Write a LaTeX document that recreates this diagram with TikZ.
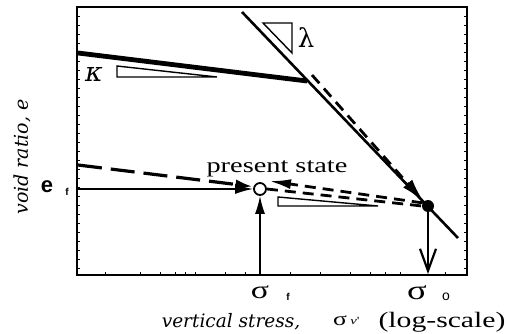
\documentclass[tikz,border=0pt]{standalone}
\usepackage{fontspec}
\setmainfont{Liberation Serif}
\newfontfamily\wide[FakeStretch=1.35]{Liberation Serif}
\newfontfamily\itfont{DejaVu Serif}
\newfontfamily\bsans{Liberation Sans}
\usetikzlibrary{arrows.meta}
\tikzset{
  axisline/.style={line width=1.6pt},
  tickmark/.style={line width=0.7pt},
  ncl/.style={line width=2.6pt},
  kline/.style={line width=4.8pt},
  thinline/.style={line width=1.4pt},
  dashlong/.style={line width=3.2pt, dash pattern=on 24pt off 9pt},
  dashshort/.style={line width=2.8pt, dash pattern=on 11pt off 7pt},
  slopetri/.style={line width=1.4pt},
  fillhead/.style={-{Latex[length=18pt,width=10pt]}},
  bighead/.style={-{Latex[length=24pt,width=12pt]}},
  lbl/.style={inner sep=0pt},
}
\begin{document}
\begin{tikzpicture}[x=1pt,y=-1pt]
\useasboundingbox (0,0) rectangle (508,334);
% frame
\coordinate (bl) at (77,275);
\coordinate (tr) at (467,7);
\draw[axisline] (bl) rectangle (tr);
% minor ticks on the left and right axes
\foreach \y in {16,25,...,268} {
  \draw[tickmark] (77,\y) -- ++(3,0);
  \draw[tickmark] (467,\y) -- ++(-3,0);
}
\foreach \x in {105,140,160,175,185,195,225,245,290,320,350,370,385,400,445} {
  \draw[tickmark] (\x,275) -- ++(0,-3);
}
% normal consolidation line (lambda)
\coordinate (n1) at (242,12);
\coordinate (n2) at (458,238);
\draw[ncl] (n1) -- (n2);
% unloading line (kappa)
\coordinate (k1) at (78,53);
\coordinate (k2) at (307,81);
\draw[kline] (k1) -- (k2);
% slope triangles
\draw[slopetri] (117,66) -- (117,77) -- (217,77) -- cycle;
\draw[slopetri] (263,23) -- (292,23) -- (292,53) -- cycle;
\draw[slopetri] (278,197) -- (278,206) -- (378,206) -- cycle;
% states
\node[circle, fill=black, minimum size=12pt, inner sep=0pt] (oc) at (428,206) {};
\node[circle, draw, fill=white, line width=1.8pt, minimum size=12pt, inner sep=0pt] (ps) at (260,189) {};
% dashed paths
\coordinate (aL) at (78,165);
\draw[dashlong, -{Latex[length=18pt,width=10pt]}] (aL) -- (ps.160);
\draw[dashshort] (ps.east) -- (oc.west);
\coordinate (cTip) at (269,181);
\draw[dashshort, -{Latex[length=22pt,width=10pt]}] (oc.150) -- (cTip);
\coordinate (dTop) at (312,75);
\draw[dashshort, bighead] (dTop) -- (oc.north west);
% e_f and sigma_f guides
\coordinate (ef) at (77,189);
\draw[thinline, fillhead] (ef) -- (ps.west);
\coordinate (sf) at (260,275);
\draw[thinline, fillhead] (sf) -- (ps.south);
% sigma_o arrow
\coordinate (so) at (428,274);
\draw[line width=2.2pt, -{Straight Barb[length=22pt,width=16pt]}] (oc.south) -- (so);
% labels
\node[lbl, anchor=base, font=\wide\fontsize{21}{21}\selectfont] (pst) at (277,172) {present state};
\node[lbl, font=\itfont\itshape\fontsize{27}{27}\selectfont] (kap) at (94,74) {κ};
\node[lbl, font=\itfont\fontsize{26}{26}\selectfont] (lam) at (306,38) {λ};
\node[lbl, rotate=90, font=\itfont\itshape\fontsize{19}{19}\selectfont] (yl) at (22,157) {void ratio, e};
\node[lbl, font=\bsans\bfseries\fontsize{22}{22}\selectfont] (e) at (47,187) {e};
\node[lbl, font=\bsans\bfseries\fontsize{10}{10}\selectfont] (ef2) at (67,192) {f};
\node[lbl, anchor=base, font=\wide\fontsize{25}{25}\selectfont] (sgf) at (260,298) {σ};
\node[lbl, anchor=base, font=\bsans\bfseries\fontsize{10}{10}\selectfont] (sgfs) at (288,300) {f};
\node[lbl, anchor=base, font=\wide\fontsize{27}{27}\selectfont] (sgo) at (417,299) {σ};
\node[lbl, anchor=base, font=\bsans\fontsize{14}{14}\selectfont] (sgos) at (446,300) {o};
\node[lbl, anchor=base, font=\itfont\itshape\fontsize{18.5}{18.5}\selectfont] (xl) at (231,327) {vertical stress,};
\node[lbl, anchor=base, font=\wide\fontsize{19}{19}\selectfont] (xs) at (340,325) {σ};
\node[lbl, anchor=base, font=\wide\fontsize{11}{11}\selectfont] (xv) at (355,324) {\itshape v\upshape'};
\node[lbl, anchor=base, font=\wide\fontsize{22}{22}\selectfont] (xlog) at (442,327) {(log-scale)};
\end{tikzpicture}
\end{document}
